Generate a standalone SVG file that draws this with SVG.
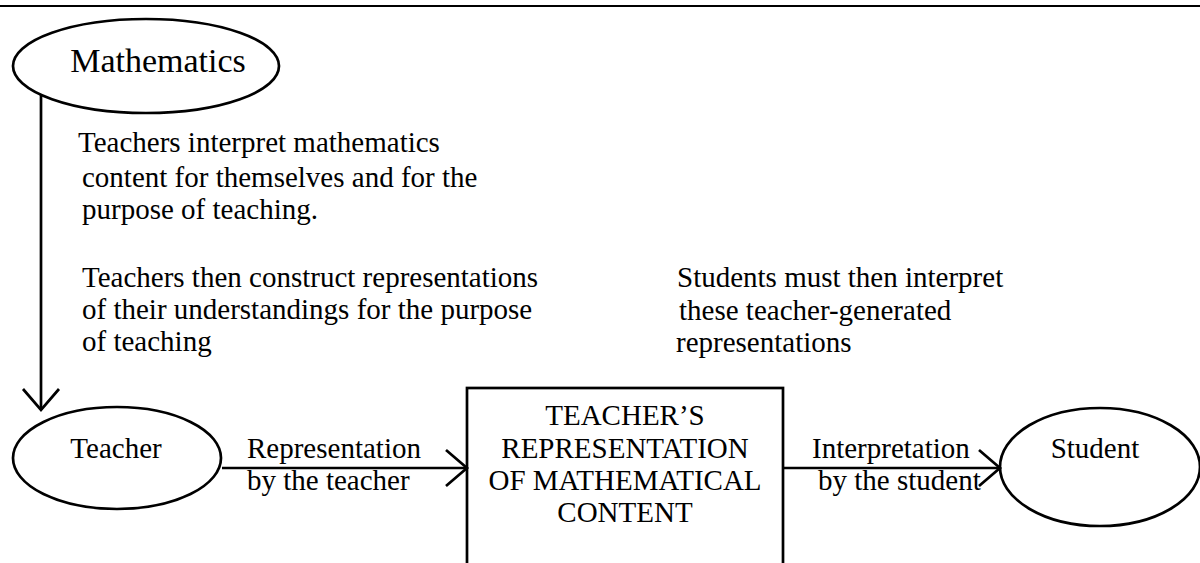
<svg xmlns="http://www.w3.org/2000/svg" width="1200" height="563" viewBox="0 0 1200 563">
  <style>
    .ink { fill: none; stroke: #000; stroke-width: 2.7; }
    .rule { fill: none; stroke: #000; stroke-width: 2.2; }
    text { font-family: "Liberation Serif", "Times New Roman", serif; fill: #000; font-size: 29px; }
    .big { font-size: 34px; }
    .mid { text-anchor: middle; }
  </style>
  <defs>
    <!-- open V arrowhead, tip at the end of the line -->
    <marker id="vee" markerUnits="userSpaceOnUse" markerWidth="30" markerHeight="44" viewBox="-24 -22 28 44" refX="0" refY="0" orient="auto" overflow="visible">
      <path d="M-21,-18 L0,0 L-21,18" fill="none" stroke="#000" stroke-width="2.7"/>
    </marker>
  </defs>

  <rect width="1200" height="563" fill="#fff"/>

  <!-- top rule -->
  <line class="rule" x1="0" y1="6" x2="1200" y2="6"/>

  <g id="connectors">
    <line class="ink" x1="41" y1="95" x2="41" y2="410" marker-end="url(#vee)"/>
    <line class="ink" x1="222" y1="468" x2="467" y2="468" marker-end="url(#vee)"/>
    <line class="ink" x1="783" y1="468" x2="1000" y2="468" marker-end="url(#vee)"/>
  </g>

  <g id="mathematics">
    <ellipse class="ink" cx="146" cy="66" rx="133" ry="47"/>
    <text class="big mid" x="158" y="72">Mathematics</text>
  </g>

  <g id="teacher">
    <ellipse class="ink" cx="117" cy="458" rx="104" ry="51"/>
    <text class="mid" x="116" y="458">Teacher</text>
  </g>

  <g id="representation-box">
    <rect class="ink" x="467" y="388" width="316" height="220"/>
    <text class="mid" x="625" y="425">TEACHER’S</text>
    <text class="mid" x="625" y="458">REPRESENTATION</text>
    <text class="mid" x="625" y="490">OF MATHEMATICAL</text>
    <text class="mid" x="625" y="522">CONTENT</text>
  </g>

  <g id="student">
    <ellipse class="ink" cx="1100" cy="467" rx="100" ry="59"/>
    <text class="mid" x="1095" y="458">Student</text>
  </g>

  <g id="edge-labels">
    <text x="247" y="458">Representation</text>
    <text x="247" y="490">by the teacher</text>
    <text x="812" y="458">Interpretation</text>
    <text x="818" y="490">by the student</text>
  </g>

  <g id="notes">
    <text x="78" y="152">Teachers interpret mathematics</text>
    <text x="82" y="187">content for themselves and for the</text>
    <text x="82" y="219">purpose of teaching.</text>

    <text x="82" y="287">Teachers then construct representations</text>
    <text x="82" y="319">of their understandings for the purpose</text>
    <text x="82" y="351">of teaching</text>

    <text x="677" y="287">Students must then interpret</text>
    <text x="679" y="320">these teacher-generated</text>
    <text x="676" y="352">representations</text>
  </g>
</svg>
